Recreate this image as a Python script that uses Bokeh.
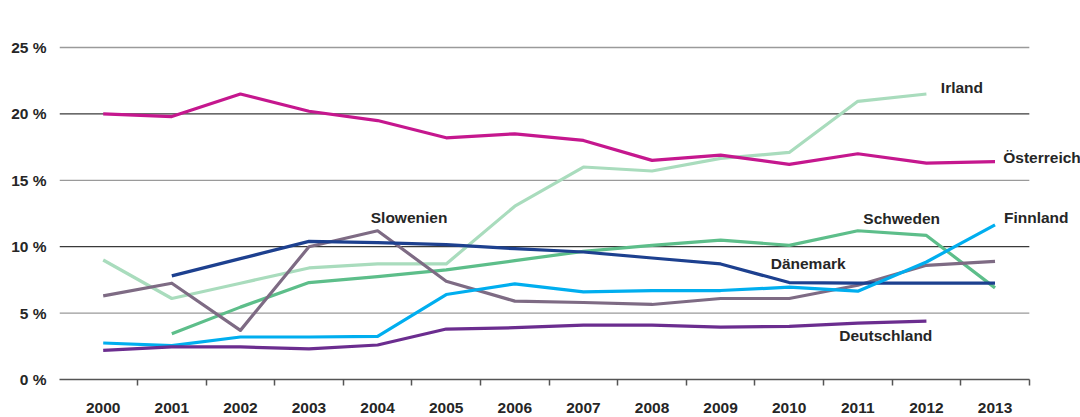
from bokeh.plotting import figure
from bokeh.models import Range1d, FixedTicker, Label
from bokeh.embed import file_html
from bokeh.resources import INLINE
import numpy as np

years = ["2000", "2001", "2002", "2003", "2004", "2005", "2006",
         "2007", "2008", "2009", "2010", "2011", "2012", "2013"]
y_ticks = [0, 5, 10, 15, 20, 25]
y_tick_labels = ["0 %", "5 %", "10 %", "15 %", "20 %", "25 %"]

oesterreich = [20.0, 19.8, 21.5, 20.2, 19.5, 18.2, 18.5, 18.0, 16.5, 16.9, 16.2, 17.0, 16.3, 16.4]
irland = [9.0, 6.1, 7.25, 8.4, 8.7, 8.7, 13.05, 16.0, 15.7, 16.65, 17.1, 20.95, 21.5, None]
daenemark = [None, 7.8, 9.1, 10.4, 10.3, 10.15, 9.85, 9.6, 9.15, 8.7, 7.3, 7.25, 7.25, 7.25]
schweden = [None, 3.45, 5.45, 7.3, 7.75, 8.25, 8.95, 9.65, 10.1, 10.5, 10.1, 11.2, 10.85, 6.9]
finnland = [2.75, 2.55, 3.2, 3.2, 3.25, 6.4, 7.2, 6.6, 6.7, 6.7, 6.95, 6.65, 8.85, 11.65]
slowenien = [6.3, 7.25, 3.7, 10.0, 11.2, 7.4, 5.9, 5.8, 5.65, 6.1, 6.1, 7.1, 8.6, 8.9]
deutschland = [2.2, 2.45, 2.45, 2.3, 2.6, 3.8, 3.9, 4.1, 4.1, 3.95, 4.0, 4.25, 4.4, None]

series = [
    ("Irland", irland, "#A9DCBD"),
    ("Schweden", schweden, "#5DBE8A"),
    ("Slowenien", slowenien, "#7E6B84"),
    ("Dänemark", daenemark, "#1D408F"),
    ("Finnland", finnland, "#00AEEF"),
    ("Deutschland", deutschland, "#6B2D8F"),
    ("Österreich", oesterreich, "#C5178E"),
]

FONT = "Liberation Sans"
TXT = "#262626"
FS = "15.5px"

X0, X1 = -0.637, 13.5          # extent of grid / axis line
p = figure(width=1080, height=417, output_backend="svg", toolbar_location=None,
           x_range=Range1d(X0, 14.246), y_range=Range1d(0, 28.54),
           min_border_left=59, min_border_right=0, min_border_top=0, min_border_bottom=38)
p.outline_line_color = None
p.xgrid.visible = False
p.ygrid.visible = False

# grid lines (alternating light / dark), limited to the plotting area
for i, t in enumerate(y_ticks):
    if t == 0:
        continue
    col = "#3a3a3a" if i % 2 == 0 else "#9a9a9a"
    p.segment(x0=[X0], y0=[t], x1=[X1], y1=[t], line_color=col, line_width=1.3)

xs = np.arange(len(years))
for name, vals, col in series:
    v = np.array([np.nan if a is None else a for a in vals], dtype=float)
    p.line(xs, v, line_color=col, line_width=3.2, line_join="round")

# x axis
xa = p.xaxis[0]
xa.bounds = (X0, X1)
xa.ticker = FixedTicker(ticks=list(range(len(years))),
                        minor_ticks=[i + 0.5 for i in range(len(years))])
xa.major_label_overrides = {i: y for i, y in enumerate(years)}
xa.major_tick_out = 0
xa.major_tick_in = 0
xa.minor_tick_out = 6
xa.minor_tick_in = 0
xa.minor_tick_line_color = "#555555"
xa.minor_tick_line_width = 1.5
xa.axis_line_color = "#555555"
xa.axis_line_width = 1.5
xa.major_label_standoff = 17
xa.major_label_text_font = FONT
xa.major_label_text_font_style = "bold"
xa.major_label_text_font_size = FS
xa.major_label_text_color = TXT

# y axis
ya = p.yaxis[0]
ya.ticker = FixedTicker(ticks=y_ticks)
ya.major_label_overrides = {t: l for t, l in zip(y_ticks, y_tick_labels)}
ya.axis_line_color = None
ya.major_tick_out = 0
ya.major_tick_in = 0
ya.minor_tick_out = 0
ya.minor_tick_in = 0
ya.major_label_standoff = 13
ya.major_label_text_font = FONT
ya.major_label_text_font_style = "bold"
ya.major_label_text_font_size = FS
ya.major_label_text_color = TXT

# series labels
label_texts = ["Irland", "Österreich", "Finnland", "Schweden", "Dänemark", "Deutschland", "Slowenien"]
label_x = [12.21, 13.12, 13.13, 11.08, 9.73, 10.73, 3.90]
label_y = [21.99, 16.69, 12.22, 12.12, 8.71, 3.31, 12.22]
for t, lx, ly in zip(label_texts, label_x, label_y):
    p.add_layout(Label(x=lx, y=ly, text=t, text_font=FONT, text_font_style="bold",
                       text_font_size=FS, text_color=TXT, text_baseline="alphabetic",
                       text_align="left"))

open("out.html", "w").write(file_html(p, INLINE))
